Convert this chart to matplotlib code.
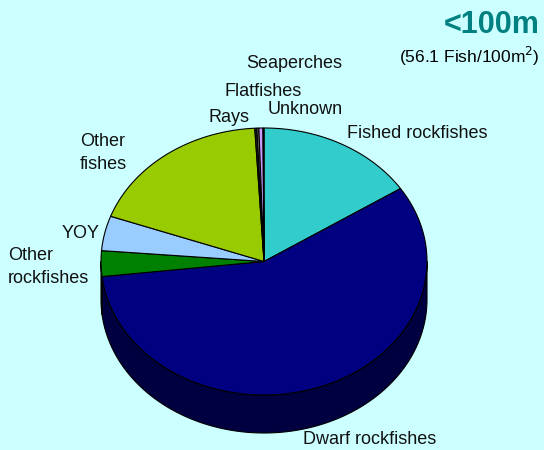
import numpy as np
import matplotlib
matplotlib.use("Agg")
import matplotlib.pyplot as plt
from matplotlib.patches import Polygon

# catch composition, percent of fish counted (clockwise from 12 o'clock)
groups = ["Fished rockfishes", "Dwarf rockfishes", "Other\nrockfishes", "YOY",
          "Other\nfishes", "Rays", "Flatfishes", "Seaperches", "Unknown"]
share = [15.8, 57.4, 3.1, 4.2, 18.6, 0.2, 0.2, 0.4, 0.1]
colors = ["#33CCCC", "#000080", "#008000", "#99CCFF", "#99CC00",
          "#222222", "#777777", "#CC99FF", "#FFFFFF"]

# label anchor points (pixel space, left edge / vertical centre)
label_xy = [(347, 133), (303, 440), (8, 267), (62, 233), (80, 153),
            (209, 117), (225, 91), (246, 63), (268, 110)]

bg = "#CCFFFF"
cx, cy, ra, rb, depth = 264, 261.5, 163, 133.5, 38

fig = plt.figure(figsize=(5.44, 4.5), dpi=100, facecolor=bg)
ax = fig.add_axes([0, 0, 1, 1])
ax.set_xlim(0, 544)
ax.set_ylim(450, 0)
ax.axis("off")
ax.set_facecolor(bg)


def arc(t0, t1, n=200):
    t = np.radians(np.linspace(t0, t1, n))
    return np.column_stack([cx + ra * np.cos(t), cy - rb * np.sin(t)])


def darker(c, f=0.5):
    r, g, b = matplotlib.colors.to_rgb(c)
    return (r * f, g * f, b * f)


total = sum(share)
ends = 90 - 360 * np.cumsum(share) / total
starts = np.concatenate([[90], ends[:-1]])

# side walls: only the front half (180..360 deg) can be seen
for s, e, c in zip(starts, ends, colors):
    lo, hi = min(s, e), max(s, e)
    for off in (-360, 0):
        a0 = max(lo, 180 + off)
        a1 = min(hi, 360 + off)
        if a1 > a0:
            top = arc(a0, a1)
            bot = top + [0, depth]
            pts = np.vstack([top, bot[::-1]])
            ax.add_patch(Polygon(pts, closed=True, facecolor=darker(c),
                                 edgecolor="black", linewidth=0.8, zorder=1))

# top faces
for s, e, c in zip(starts, ends, colors):
    pts = np.vstack([[cx, cy], arc(s, e)])
    ax.add_patch(Polygon(pts, closed=True, facecolor=c, edgecolor="black",
                         linewidth=0.8, zorder=2))

lab_font = ["Liberation Sans Narrow", "Liberation Sans", "DejaVu Sans"]
for name, (x, y) in zip(groups, label_xy):
    ax.text(x, y, name, family=lab_font, fontsize=13, color="#111111",
            ha="left", va="center", linespacing=1.45, zorder=3)

ax.text(540, 25, "<100m", family=["Liberation Sans", "DejaVu Sans"],
        fontsize=22, fontweight="bold", color="#008080", ha="right", va="center")
ax.text(540, 56, "(56.1 Fish/100m$^2$)", family=["Liberation Sans", "DejaVu Sans"],
        fontsize=12.5, color="black", ha="right", va="center")

fig.savefig("out.png", dpi=100, facecolor=bg)
